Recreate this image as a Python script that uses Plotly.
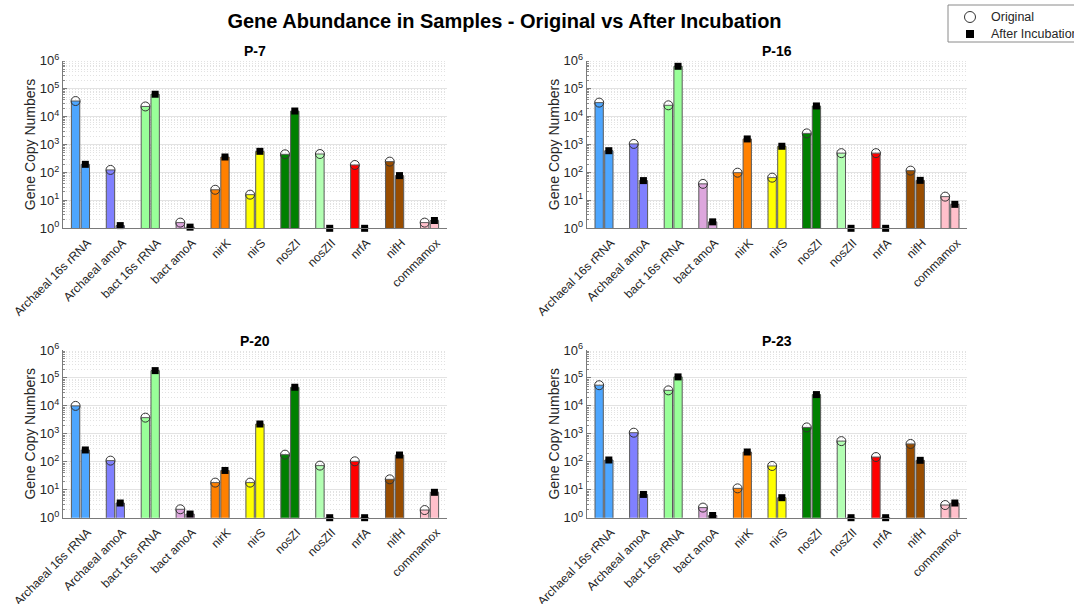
import plotly.graph_objects as go

# ---------------- data ----------------
categories = ["Archaeal 16s rRNA", "Archaeal amoA", "bact 16s rRNA", "bact amoA",
              "nirK", "nirS", "nosZI", "nosZII", "nrfA", "nifH", "commamox"]

sample_names = ["P-7", "P-16", "P-20", "P-23"]

p7_original = [36000, 123, 23000, 1.6, 24, 16, 445, 457, 185, 244, 1.6]
p7_after = [195, 1.25, 63000, 1.1, 357, 570, 15800, 1, 1, 77, 1.9]

p16_original = [31600, 1050, 25300, 39, 98, 65, 2500, 490, 490, 116, 13.6]
p16_after = [600, 51, 630000, 1.7, 1580, 865, 24000, 1, 1, 52, 7.2]

p20_original = [10000, 110, 3800, 2.0, 18, 18, 180, 73, 104, 23.6, 1.88]
p20_after = [265, 3.35, 183000, 1.35, 49, 2250, 46500, 1, 1, 175, 8.1]

p23_original = [55000, 1100, 36000, 2.3, 11.2, 71, 1700, 550, 148, 435, 2.84]
p23_after = [116, 6.8, 109000, 1.2, 224, 5.2, 25400, 1, 1, 113, 3.35]

bar_colors = ["#4DA6FF", "#8080FF", "#99FF99", "#DDA6DD", "#FF8000", "#FFFF00",
              "#008000", "#B3FFB3", "#FF0000", "#994D00", "#FFC0CB"]

legend_labels = ["Original", "After Incubation"]

y_tick_exponents = [0, 1, 2, 3, 4, 5, 6]

originals = [p7_original, p16_original, p20_original, p23_original]
afters = [p7_after, p16_after, p20_after, p23_after]

# ---------------- layout geometry ----------------
W, H = 1074, 604
x_domains = [[63 / W, 447 / W], [586.7 / W, 967.3 / W]]
y_domains = [[1 - 228.3 / H, 1 - 60.7 / H], [1 - 517.7 / H, 1 - 350 / H]]

FONT = "Liberation Sans, Arial, Helvetica, sans-serif"
TXT = "#262626"
offset = 0.14
bar_w = 0.24

fig = go.Figure()

idx = list(range(1, len(categories) + 1))
major_vals = [10 ** e for e in y_tick_exponents]
major_text = ["10<sup>%d</sup>" % e for e in y_tick_exponents]
minor_vals = [k * 10 ** e for e in y_tick_exponents[:-1] for k in range(2, 10)]

circle_marker = dict(symbol="circle-open", size=9, color="#333333", line=dict(width=1))
square_marker = dict(symbol="square", size=7, color="black")

annotations = []
for p in range(4):
    row, col = divmod(p, 2)
    ax = "" if p == 0 else str(p + 1)
    xref, yref = "x" + ax, "y" + ax
    orig = originals[p]
    aft = afters[p]
    xo = [i - offset for i in idx]
    xa = [i + offset for i in idx]

    fig.add_trace(go.Bar(x=xo, y=orig, width=bar_w, xaxis=xref, yaxis=yref,
                         marker=dict(color=bar_colors, line=dict(color="#5a5a5a", width=1)),
                         showlegend=False, hoverinfo="skip"))
    fig.add_trace(go.Bar(x=xa, y=aft, width=bar_w, xaxis=xref, yaxis=yref,
                         marker=dict(color=bar_colors, line=dict(color="#5a5a5a", width=1)),
                         showlegend=False, hoverinfo="skip"))
    fig.add_trace(go.Scatter(x=xo, y=orig, mode="markers", xaxis=xref, yaxis=yref,
                             marker=circle_marker, name=legend_labels[0],
                             showlegend=False, cliponaxis=False))
    fig.add_trace(go.Scatter(x=xa, y=aft, mode="markers", xaxis=xref, yaxis=yref,
                             marker=square_marker, name=legend_labels[1],
                             showlegend=False, cliponaxis=False))

    xd = x_domains[col]
    yd = y_domains[row]
    fig.layout["xaxis" + ax] = dict(
        domain=xd, anchor=yref, range=[0.5, 11.5], tickmode="array",
        tickvals=idx, ticktext=categories, tickangle=-45,
        ticklabelshift=7, ticklabelstandoff=2,
        showline=True, linecolor="#7a7a7a", linewidth=1, ticks="",
        showgrid=False, zeroline=False,
        tickfont=dict(family=FONT, size=12, color=TXT))
    fig.layout["yaxis" + ax] = dict(
        domain=yd, anchor=xref, type="log", range=[0, 6],
        tickmode="array", tickvals=major_vals, ticktext=major_text,
        showline=True, linecolor="#7a7a7a", linewidth=1,
        ticks="inside", ticklen=4, tickcolor="#7a7a7a",
        showgrid=True, gridcolor="#e3e3e3", gridwidth=1, zeroline=False,
        minor=dict(tickmode="array", tickvals=minor_vals, ticks="inside", ticklen=2,
                   tickcolor="#8a8a8a", showgrid=True, gridcolor="#e2e2e2",
                   griddash="1px,2px", gridwidth=1),
        tickfont=dict(family=FONT, size=13, color=TXT),
        title=dict(text="Gene Copy Numbers", font=dict(family=FONT, size=14, color=TXT),
                   standoff=0))
    annotations.append(dict(text="<b>%s</b>" % sample_names[p], xref="paper", yref="paper",
                            x=(xd[0] + xd[1]) / 2, y=yd[1] + 9.5 / H,
                            xanchor="center", yanchor="middle", showarrow=False,
                            font=dict(family=FONT, size=14, color="black")))

# ---------------- legend box (drawn on a hidden pixel-unit axis) ----------------
lg_x0, lg_y0, lg_y1 = 948, 5, 42
fig.add_trace(go.Scatter(x=[22], y=[12], mode="markers", xaxis="x5", yaxis="y5",
                         marker=dict(symbol="circle-open", size=11, color="#333333",
                                     line=dict(width=1)),
                         showlegend=False, hoverinfo="skip", cliponaxis=False))
fig.add_trace(go.Scatter(x=[22], y=[29], mode="markers", xaxis="x5", yaxis="y5",
                         marker=dict(symbol="square", size=8, color="black"),
                         showlegend=False, hoverinfo="skip", cliponaxis=False))
fig.layout["xaxis5"] = dict(domain=[lg_x0 / W, 1.0], range=[0, W - lg_x0], visible=False,
                            anchor="y5", fixedrange=True)
fig.layout["yaxis5"] = dict(domain=[1 - lg_y1 / H, 1 - lg_y0 / H], range=[lg_y1 - lg_y0, 0],
                            visible=False, anchor="x5", fixedrange=True)
for k, lab in enumerate(legend_labels):
    annotations.append(dict(text=lab, xref="x5", yref="y5", x=41, y=12 + 17 * k,
                            xanchor="left", yanchor="middle", showarrow=False,
                            font=dict(family=FONT, size=12.5, color=TXT)))

fig.update_layout(
    width=W, height=H,
    margin=dict(l=0, r=0, t=0, b=0, autoexpand=False),
    paper_bgcolor="white", plot_bgcolor="white",
    barmode="overlay",
    title=dict(text="<b>Gene Abundance in Samples - Original vs After Incubation</b>",
               x=504.5 / W, y=1 - 21 / H, xanchor="center", yanchor="middle",
               font=dict(family=FONT, size=20, color="black")),
    annotations=annotations,
    shapes=[dict(type="rect", xref="paper", yref="paper", x0=lg_x0 / W, x1=1.05,
                 y0=1 - lg_y1 / H, y1=1 - lg_y0 / H, line=dict(color="#8a8a8a", width=1),
                 fillcolor="rgba(0,0,0,0)", layer="below")],
    showlegend=False,
)

fig.write_html("out.html")
